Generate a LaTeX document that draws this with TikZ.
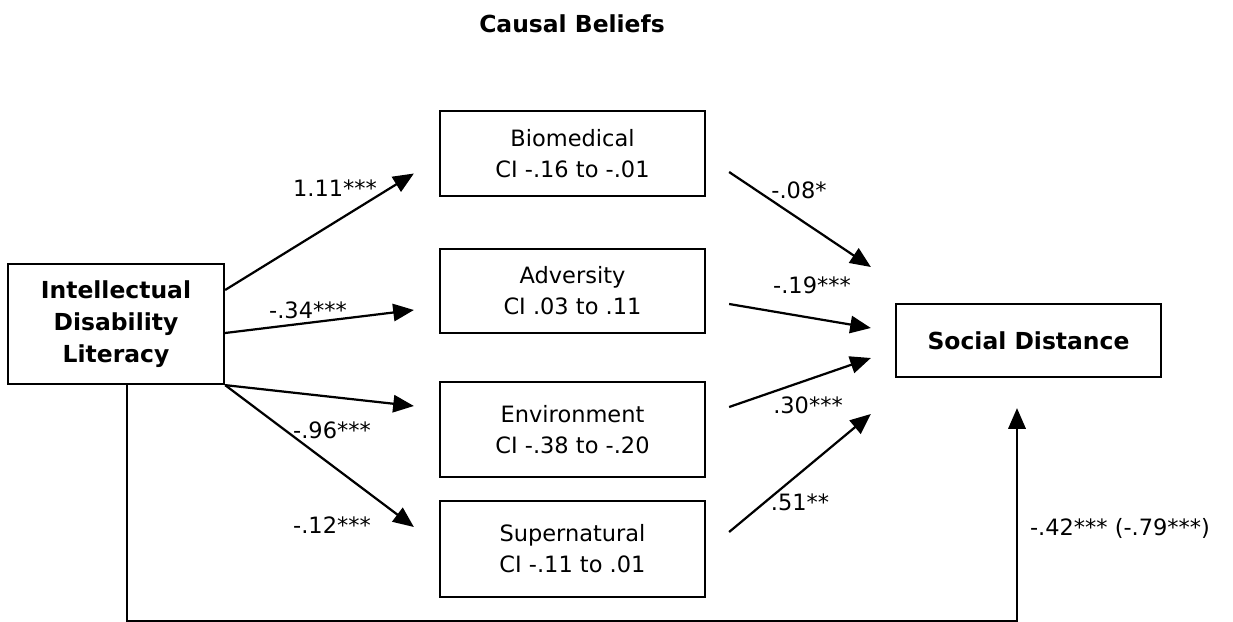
\documentclass[tikz,border=0pt]{standalone}
\usepackage{fontspec}
\setmainfont{DejaVu Sans}
\usetikzlibrary{arrows.meta,calc}

\begin{document}
\begin{tikzpicture}[
    x=0.03cm, y=-0.03cm,
    font=\fontsize{19.2pt}{26.5pt}\selectfont,
    box/.style={rectangle, draw, line width=1.9pt, align=center, inner sep=0pt},
    cause/.style={box, minimum width=7.95cm},
    heading/.style={font=\fontsize{20pt}{27pt}\selectfont\bfseries},
    effect/.style={-{Triangle[length=0.62cm,width=0.52cm]}, line width=1.9pt},
    coef/.style={inner sep=0pt}
]

\useasboundingbox (0,0) rectangle (1233,622);

% Title
\node[heading] (title) at (572,24) {Causal Beliefs};

% Predictor and outcome
\node[box, heading, minimum width=6.48cm, minimum height=3.6cm] (idl) at (116,324) {Intellectual\\Disability\\Literacy};
\node[box, heading, minimum width=7.95cm, minimum height=2.19cm] (sd) at (1028.5,340.5) {Social Distance};

% Mediators
\node[cause, minimum height=2.55cm] (bio) at (572.5,153.5) {Biomedical\\CI -.16 to -.01};
\node[cause, minimum height=2.52cm] (adv) at (572.5,291) {Adversity\\CI .03 to .11};
\node[cause, minimum height=2.85cm] (env) at (572.5,429.5) {Environment\\CI -.38 to -.20};
\node[cause, minimum height=2.88cm] (sup) at (572.5,549) {Supernatural\\CI -.11 to .01};

% Paths a
\draw[effect] ($(idl.east)+(0,-34)$) -- ($(bio.west)+(-25,20)$);
\draw[effect] ($(idl.east)+(0,9)$) -- ($(adv.west)+(-25,19)$);
\draw[effect] (idl.south east) -- ($(env.west)+(-25,-23.5)$);
\draw[effect] (idl.south east) -- ($(sup.west)+(-25,-22)$);

% Paths b
\draw[effect] ($(bio.east)+(23,18.5)$) -- ($(sd.west)+(-24,-73.5)$);
\draw[effect] ($(adv.east)+(23,13)$) -- ($(sd.west)+(-24,-12.5)$);
\draw[effect] ($(env.east)+(23,-22.5)$) -- ($(sd.west)+(-24,17.5)$);
\draw[effect] ($(sup.east)+(23,-17)$) -- ($(sd.west)+(-24,73.5)$);

% Direct path
\draw[effect] ($(idl.south west)+(120,0)$) -- ++(0,236) -| ($(sd.south)+(-11.5,30)$);

% Coefficients
\node[coef] (c1) at (335,188) {1.11***};
\node[coef] (c2) at (308,310) {-.34***};
\node[coef] (c3) at (332,430) {-.96***};
\node[coef] (c4) at (332,525) {-.12***};
\node[coef] (d1) at (799,190) {-.08*};
\node[coef] (d2) at (812,285) {-.19***};
\node[coef] (d3) at (808,405) {.30***};
\node[coef] (d4) at (800,502) {.51**};
\node[coef] (tot) at (1120,528) {-.42*** (-.79***)};

\end{tikzpicture}
\end{document}
